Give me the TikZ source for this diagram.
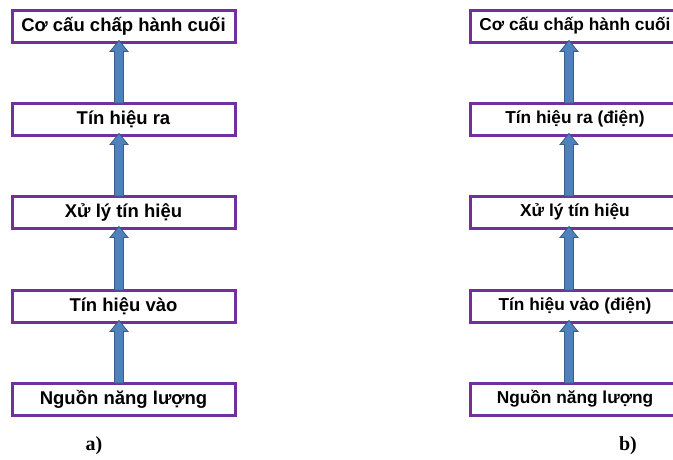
\documentclass[tikz,border=0pt]{standalone}
\usepackage{fontspec}
\setmainfont{Liberation Sans}
\newfontfamily\labelfont{Liberation Serif}
\usetikzlibrary{calc}

\definecolor{boxpurple}{HTML}{7030A0}
\definecolor{arrfill}{HTML}{4F81BD}
\definecolor{arrline}{HTML}{385D8A}

\tikzset{
  stagebox/.style={draw=boxpurple, line width=3pt, fill=white,
    minimum height=32pt, inner sep=0pt, outer sep=0pt,
    font=\bfseries\fontsize{18.5}{20}\selectfont},
  stageboxL/.style={stagebox, minimum width=223pt},
  stageboxR/.style={stagebox, minimum width=210pt,
    font=\bfseries\fontsize{17.3}{19}\selectfont},
  blockarrow/.style={fill=arrfill, draw=arrline, line width=0.8pt, line join=miter},
  caption/.style={font=\labelfont\bfseries\fontsize{20}{22}\selectfont}
}

% block arrow from the top of #1 up to the bottom of #2, shifted by #3 horizontally
\newcommand\stagearrow[3]{%
  \path[blockarrow] let \p1=($(#1.north)+(#3,0)$), \p2=(#2.south) in
    (\x1-4.5pt,\y1) -- (\x1-4.5pt,\y2+1.5pt-11pt) -- (\x1-9pt,\y2+1.5pt-11pt)
    -- (\x1,\y2+1.5pt) -- (\x1+9pt,\y2+1.5pt-11pt) -- (\x1+4.5pt,\y2+1.5pt-11pt)
    -- (\x1+4.5pt,\y1) -- cycle;}

\begin{document}
\begin{tikzpicture}[x=1pt,y=1pt]
\useasboundingbox (0,0) rectangle (673,-459);
\clip (0,0) rectangle (673,-459);

% chain a)
\node[stageboxL] (a1) at (123.5,-26)  {Cơ cấu chấp hành cuối};
\node[stageboxL] (a2) at (123.5,-119) {Tín hiệu ra};
\node[stageboxL] (a3) at (123.5,-212) {Xử lý tín hiệu};
\node[stageboxL] (a4) at (123.5,-306) {Tín hiệu vào};
\node[stageboxL] (a5) at (123.5,-399) {Nguồn năng lượng};

\stagearrow{a5}{a4}{-4.5pt}
\stagearrow{a4}{a3}{-4.5pt}
\stagearrow{a3}{a2}{-4.5pt}
\stagearrow{a2}{a1}{-4.5pt}

% chain b)
\node[stageboxR] (b1) at (575,-26)  {Cơ cấu chấp hành cuối};
\node[stageboxR] (b2) at (575,-119) {Tín hiệu ra (điện)};
\node[stageboxR] (b3) at (575,-212) {Xử lý tín hiệu};
\node[stageboxR] (b4) at (575,-306) {Tín hiệu vào (điện)};
\node[stageboxR] (b5) at (575,-399) {Nguồn năng lượng};

\stagearrow{b5}{b4}{-6pt}
\stagearrow{b4}{b3}{-6pt}
\stagearrow{b3}{b2}{-6pt}
\stagearrow{b2}{b1}{-6pt}

\node[caption] (capA) at (94,-446)  {a)};
\node[caption] (capB) at (628,-446) {b)};
\end{tikzpicture}
\end{document}
